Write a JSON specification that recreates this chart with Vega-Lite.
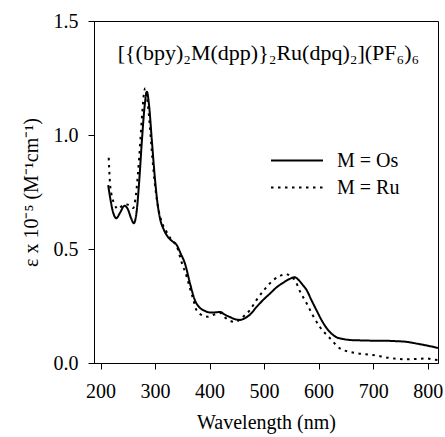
{
  "$schema": "https://vega.github.io/schema/vega-lite/v6.json",
  "width": 344,
  "height": 342,
  "autosize": {"type": "none"},
  "padding": {"left": 94, "top": 21, "right": 7, "bottom": 74},
  "background": "white",
  "config": {
    "view": {"stroke": "black", "strokeWidth": 1},
    "axisX": {"labelFont": "serif", "titleFont": "serif"},
    "axisY": {"labelFont": "serif", "titleFont": "serif"},
    "axis": {
      "grid": false,
      "domainColor": "black",
      "tickColor": "black",
      "tickSize": 6,
      "labelColor": "black",
      "labelFontSize": 20,
      "titleColor": "black",
      "titleFontSize": 20,
      "titleFontWeight": "normal"
    },
    "legend": {
      "labelFont": "serif",
      "labelFontSize": 20,
      "labelColor": "black"
    }
  },
  "datasets": {
    "spectra": [
      {"wavelength": 214, "eps": 0.78, "metal": "M = Os"},
      {"wavelength": 218, "eps": 0.72, "metal": "M = Os"},
      {"wavelength": 222, "eps": 0.67, "metal": "M = Os"},
      {"wavelength": 229, "eps": 0.635, "metal": "M = Os"},
      {"wavelength": 236, "eps": 0.66, "metal": "M = Os"},
      {"wavelength": 244, "eps": 0.69, "metal": "M = Os"},
      {"wavelength": 250, "eps": 0.675, "metal": "M = Os"},
      {"wavelength": 256, "eps": 0.635, "metal": "M = Os"},
      {"wavelength": 261, "eps": 0.613, "metal": "M = Os"},
      {"wavelength": 266, "eps": 0.66, "metal": "M = Os"},
      {"wavelength": 271, "eps": 0.8, "metal": "M = Os"},
      {"wavelength": 276, "eps": 0.98, "metal": "M = Os"},
      {"wavelength": 281, "eps": 1.13, "metal": "M = Os"},
      {"wavelength": 285, "eps": 1.19, "metal": "M = Os"},
      {"wavelength": 289, "eps": 1.13, "metal": "M = Os"},
      {"wavelength": 294, "eps": 0.98, "metal": "M = Os"},
      {"wavelength": 299, "eps": 0.83, "metal": "M = Os"},
      {"wavelength": 304, "eps": 0.71, "metal": "M = Os"},
      {"wavelength": 309, "eps": 0.635, "metal": "M = Os"},
      {"wavelength": 316, "eps": 0.585, "metal": "M = Os"},
      {"wavelength": 323, "eps": 0.555, "metal": "M = Os"},
      {"wavelength": 331, "eps": 0.535, "metal": "M = Os"},
      {"wavelength": 339, "eps": 0.52, "metal": "M = Os"},
      {"wavelength": 347, "eps": 0.48, "metal": "M = Os"},
      {"wavelength": 355, "eps": 0.435, "metal": "M = Os"},
      {"wavelength": 364, "eps": 0.35, "metal": "M = Os"},
      {"wavelength": 373, "eps": 0.276, "metal": "M = Os"},
      {"wavelength": 381, "eps": 0.245, "metal": "M = Os"},
      {"wavelength": 390, "eps": 0.23, "metal": "M = Os"},
      {"wavelength": 400, "eps": 0.222, "metal": "M = Os"},
      {"wavelength": 410, "eps": 0.222, "metal": "M = Os"},
      {"wavelength": 419, "eps": 0.224, "metal": "M = Os"},
      {"wavelength": 428, "eps": 0.212, "metal": "M = Os"},
      {"wavelength": 437, "eps": 0.202, "metal": "M = Os"},
      {"wavelength": 447, "eps": 0.192, "metal": "M = Os"},
      {"wavelength": 456, "eps": 0.189, "metal": "M = Os"},
      {"wavelength": 465, "eps": 0.197, "metal": "M = Os"},
      {"wavelength": 474, "eps": 0.212, "metal": "M = Os"},
      {"wavelength": 486, "eps": 0.245, "metal": "M = Os"},
      {"wavelength": 498, "eps": 0.276, "metal": "M = Os"},
      {"wavelength": 511, "eps": 0.305, "metal": "M = Os"},
      {"wavelength": 523, "eps": 0.332, "metal": "M = Os"},
      {"wavelength": 535, "eps": 0.352, "metal": "M = Os"},
      {"wavelength": 547, "eps": 0.369, "metal": "M = Os"},
      {"wavelength": 556, "eps": 0.376, "metal": "M = Os"},
      {"wavelength": 563, "eps": 0.365, "metal": "M = Os"},
      {"wavelength": 570, "eps": 0.345, "metal": "M = Os"},
      {"wavelength": 578, "eps": 0.32, "metal": "M = Os"},
      {"wavelength": 587, "eps": 0.275, "metal": "M = Os"},
      {"wavelength": 596, "eps": 0.232, "metal": "M = Os"},
      {"wavelength": 605, "eps": 0.19, "metal": "M = Os"},
      {"wavelength": 615, "eps": 0.152, "metal": "M = Os"},
      {"wavelength": 624, "eps": 0.128, "metal": "M = Os"},
      {"wavelength": 633, "eps": 0.113, "metal": "M = Os"},
      {"wavelength": 645, "eps": 0.105, "metal": "M = Os"},
      {"wavelength": 657, "eps": 0.101, "metal": "M = Os"},
      {"wavelength": 680, "eps": 0.099, "metal": "M = Os"},
      {"wavelength": 700, "eps": 0.098, "metal": "M = Os"},
      {"wavelength": 718, "eps": 0.098, "metal": "M = Os"},
      {"wavelength": 740, "eps": 0.096, "metal": "M = Os"},
      {"wavelength": 761, "eps": 0.093, "metal": "M = Os"},
      {"wavelength": 780, "eps": 0.085, "metal": "M = Os"},
      {"wavelength": 800, "eps": 0.076, "metal": "M = Os"},
      {"wavelength": 819, "eps": 0.066, "metal": "M = Os"},

      {"wavelength": 215, "eps": 0.9, "metal": "M = Ru"},
      {"wavelength": 217, "eps": 0.8, "metal": "M = Ru"},
      {"wavelength": 220, "eps": 0.74, "metal": "M = Ru"},
      {"wavelength": 225, "eps": 0.7, "metal": "M = Ru"},
      {"wavelength": 232, "eps": 0.675, "metal": "M = Ru"},
      {"wavelength": 240, "eps": 0.69, "metal": "M = Ru"},
      {"wavelength": 248, "eps": 0.695, "metal": "M = Ru"},
      {"wavelength": 255, "eps": 0.69, "metal": "M = Ru"},
      {"wavelength": 260, "eps": 0.68, "metal": "M = Ru"},
      {"wavelength": 265, "eps": 0.74, "metal": "M = Ru"},
      {"wavelength": 271, "eps": 0.905, "metal": "M = Ru"},
      {"wavelength": 276, "eps": 1.08, "metal": "M = Ru"},
      {"wavelength": 280, "eps": 1.19, "metal": "M = Ru"},
      {"wavelength": 282, "eps": 1.205, "metal": "M = Ru"},
      {"wavelength": 285, "eps": 1.17, "metal": "M = Ru"},
      {"wavelength": 289, "eps": 1.08, "metal": "M = Ru"},
      {"wavelength": 294, "eps": 0.93, "metal": "M = Ru"},
      {"wavelength": 299, "eps": 0.8, "metal": "M = Ru"},
      {"wavelength": 305, "eps": 0.69, "metal": "M = Ru"},
      {"wavelength": 312, "eps": 0.62, "metal": "M = Ru"},
      {"wavelength": 321, "eps": 0.576, "metal": "M = Ru"},
      {"wavelength": 330, "eps": 0.54, "metal": "M = Ru"},
      {"wavelength": 340, "eps": 0.51, "metal": "M = Ru"},
      {"wavelength": 349, "eps": 0.44, "metal": "M = Ru"},
      {"wavelength": 358, "eps": 0.379, "metal": "M = Ru"},
      {"wavelength": 364, "eps": 0.328, "metal": "M = Ru"},
      {"wavelength": 370, "eps": 0.28, "metal": "M = Ru"},
      {"wavelength": 376, "eps": 0.232, "metal": "M = Ru"},
      {"wavelength": 386, "eps": 0.21, "metal": "M = Ru"},
      {"wavelength": 397, "eps": 0.203, "metal": "M = Ru"},
      {"wavelength": 408, "eps": 0.212, "metal": "M = Ru"},
      {"wavelength": 419, "eps": 0.22, "metal": "M = Ru"},
      {"wavelength": 428, "eps": 0.2, "metal": "M = Ru"},
      {"wavelength": 437, "eps": 0.186, "metal": "M = Ru"},
      {"wavelength": 446, "eps": 0.18, "metal": "M = Ru"},
      {"wavelength": 455, "eps": 0.19, "metal": "M = Ru"},
      {"wavelength": 465, "eps": 0.21, "metal": "M = Ru"},
      {"wavelength": 474, "eps": 0.232, "metal": "M = Ru"},
      {"wavelength": 486, "eps": 0.276, "metal": "M = Ru"},
      {"wavelength": 501, "eps": 0.323, "metal": "M = Ru"},
      {"wavelength": 517, "eps": 0.364, "metal": "M = Ru"},
      {"wavelength": 530, "eps": 0.383, "metal": "M = Ru"},
      {"wavelength": 540, "eps": 0.39, "metal": "M = Ru"},
      {"wavelength": 550, "eps": 0.378, "metal": "M = Ru"},
      {"wavelength": 557, "eps": 0.362, "metal": "M = Ru"},
      {"wavelength": 566, "eps": 0.313, "metal": "M = Ru"},
      {"wavelength": 578, "eps": 0.262, "metal": "M = Ru"},
      {"wavelength": 590, "eps": 0.206, "metal": "M = Ru"},
      {"wavelength": 602, "eps": 0.159, "metal": "M = Ru"},
      {"wavelength": 621, "eps": 0.108, "metal": "M = Ru"},
      {"wavelength": 639, "eps": 0.064, "metal": "M = Ru"},
      {"wavelength": 655, "eps": 0.05, "metal": "M = Ru"},
      {"wavelength": 670, "eps": 0.043, "metal": "M = Ru"},
      {"wavelength": 700, "eps": 0.035, "metal": "M = Ru"},
      {"wavelength": 731, "eps": 0.022, "metal": "M = Ru"},
      {"wavelength": 761, "eps": 0.016, "metal": "M = Ru"},
      {"wavelength": 780, "eps": 0.018, "metal": "M = Ru"},
      {"wavelength": 798, "eps": 0.02, "metal": "M = Ru"},
      {"wavelength": 810, "eps": 0.015, "metal": "M = Ru"},
      {"wavelength": 819, "eps": 0.013, "metal": "M = Ru"}
    ],
    "caption": [
      {"wavelength": 508, "eps": 1.36, "text": "[{(bpy)₂M(dpp)}₂Ru(dpq)₂](PF₆)₆"}
    ]
  },
  "layer": [
    {
      "data": {"name": "spectra"},
      "mark": {"type": "line", "interpolate": "monotone", "strokeWidth": 2, "color": "black", "clip": true},
      "encoding": {
        "x": {
          "field": "wavelength",
          "type": "quantitative",
          "scale": {"domain": [188, 819], "nice": false, "zero": false},
          "axis": {
            "title": "Wavelength (nm)",
            "values": [200, 300, 400, 500, 600, 700, 800],
            "labelPadding": 12,
            "titlePadding": 11,
            "labelFlush": false,
            "labelOverlap": false,
            "labelBound": false
          }
        },
        "y": {
          "field": "eps",
          "type": "quantitative",
          "scale": {"domain": [0, 1.5], "nice": false},
          "axis": {
            "title": "ε x 10⁻⁵ (M⁻¹cm⁻¹)",
            "values": [0, 0.5, 1, 1.5],
            "format": ".1f",
            "labelPadding": 10,
            "titlePadding": 12,
            "labelFlush": false,
            "labelOverlap": false
          }
        },
        "strokeDash": {
          "field": "metal",
          "type": "nominal",
          "scale": {"domain": ["M = Os", "M = Ru"], "range": [[1, 0], [2.5, 4.5]]},
          "legend": {
            "title": null,
            "orient": "none",
            "legendX": 176,
            "legendY": 126,
            "padding": 0,
            "symbolType": "stroke",
            "symbolSize": 2704,
            "symbolStrokeWidth": 2,
            "symbolStrokeColor": "black",
            "clipHeight": 27,
            "rowPadding": 0,
            "labelOffset": 13
          }
        }
      }
    },
    {
      "data": {"name": "caption"},
      "mark": {"type": "text", "font": "serif", "fontSize": 22, "color": "black", "baseline": "middle", "align": "center"},
      "encoding": {
        "x": {"field": "wavelength", "type": "quantitative"},
        "y": {"field": "eps", "type": "quantitative"},
        "text": {"field": "text", "type": "nominal"}
      }
    }
  ]
}
